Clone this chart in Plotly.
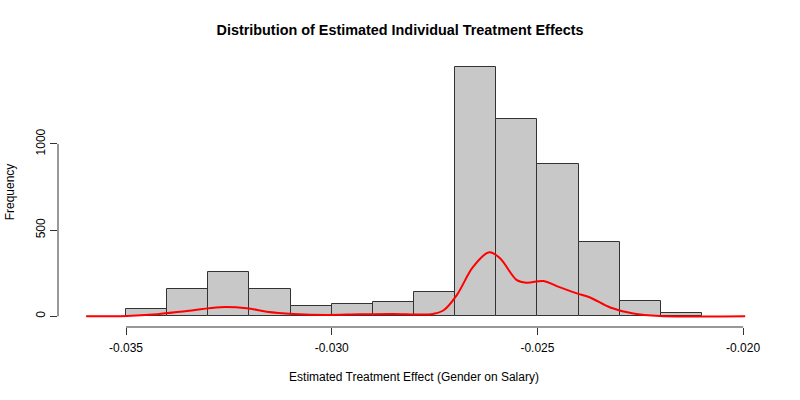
import plotly.graph_objects as go

# Histogram data
bin_left = [-0.035, -0.034, -0.033, -0.032, -0.031, -0.030, -0.029,
            -0.028, -0.027, -0.026, -0.025, -0.024, -0.023, -0.022]
counts = [41, 158, 259, 158, 62, 72, 85, 140, 1446, 1142, 883, 433, 89, 21]
bin_width = 0.001

# Scaled density curve
dens_x = [-0.03597, -0.03498, -0.03434, -0.03352, -0.03271, -0.03207, -0.03158,
          -0.03093, -0.03012, -0.02931, -0.02850, -0.02785, -0.02754, -0.02728,
          -0.02696, -0.02656, -0.02617, -0.02591, -0.02550, -0.02526, -0.02485,
          -0.02453, -0.02404, -0.02372, -0.02323, -0.02267, -0.02202, -0.01995]
dens_y = [0, 2, 10, 31, 53, 47, 27, 14, 8, 12, 14, 10, 14, 35,
          123, 288, 372, 337, 210, 195, 205, 175, 133, 109, 51, 16, 2, 0]

x_ticks = [-0.035, -0.030, -0.025, -0.020]
x_tick_labels = ["-0.035", "-0.030", "-0.025", "-0.020"]
y_ticks = [0, 500, 1000]

font_family = "Liberation Sans, Arial, sans-serif"

fig = go.Figure()
fig.add_trace(go.Bar(
    x=bin_left, y=counts, width=bin_width, offset=0,
    marker=dict(color="#C8C8C8", line=dict(color="#333333", width=1)),
    showlegend=False, hoverinfo="skip"
))
fig.add_trace(go.Scatter(
    x=dens_x, y=dens_y, mode="lines",
    line=dict(color="#FF0000", width=2, shape="spline", smoothing=1.0),
    showlegend=False, hoverinfo="skip"
))

# R-style axis lines spanning only the tick range
fig.add_shape(type="line", xref="x", yref="paper", x0=x_ticks[0], x1=x_ticks[-1],
              y0=0, y1=0, line=dict(color="#333333", width=1))
fig.add_shape(type="line", xref="paper", yref="y", x0=0, x1=0,
              y0=y_ticks[0], y1=y_ticks[-1], line=dict(color="#333333", width=1))

fig.update_layout(
    width=800, height=400,
    margin=dict(l=58, r=30, t=57, b=73),
    paper_bgcolor="white", plot_bgcolor="white",
    bargap=0,
    font=dict(family=font_family, size=12, color="#000000"),
    title=dict(text="<b>Distribution of Estimated Individual Treatment Effects</b>",
               x=0.5, xanchor="center", y=0.925, yanchor="middle",
               font=dict(size=14.4, family=font_family)),
    xaxis=dict(range=[-0.036653, -0.019347], tickvals=x_ticks, ticktext=x_tick_labels,
               ticks="outside", ticklen=7, tickcolor="#333333", showgrid=False,
               zeroline=False, showline=False, ticklabelstandoff=3, automargin=False,
               title=dict(text="Estimated Treatment Effect (Gender on Salary)",
                          font=dict(size=12), standoff=18)),
    yaxis=dict(range=[-62, 1504], tickvals=y_ticks, ticks="outside", ticklen=7,
               tickcolor="#333333", tickangle=-90, showgrid=False, zeroline=False,
               showline=False, automargin=False,
               title=dict(text="Frequency", font=dict(size=12), standoff=17)),
)

fig.write_html("out.html", config={"displayModeBar": False},
               post_script="document.body.style.margin='0';document.body.style.padding='0';")
